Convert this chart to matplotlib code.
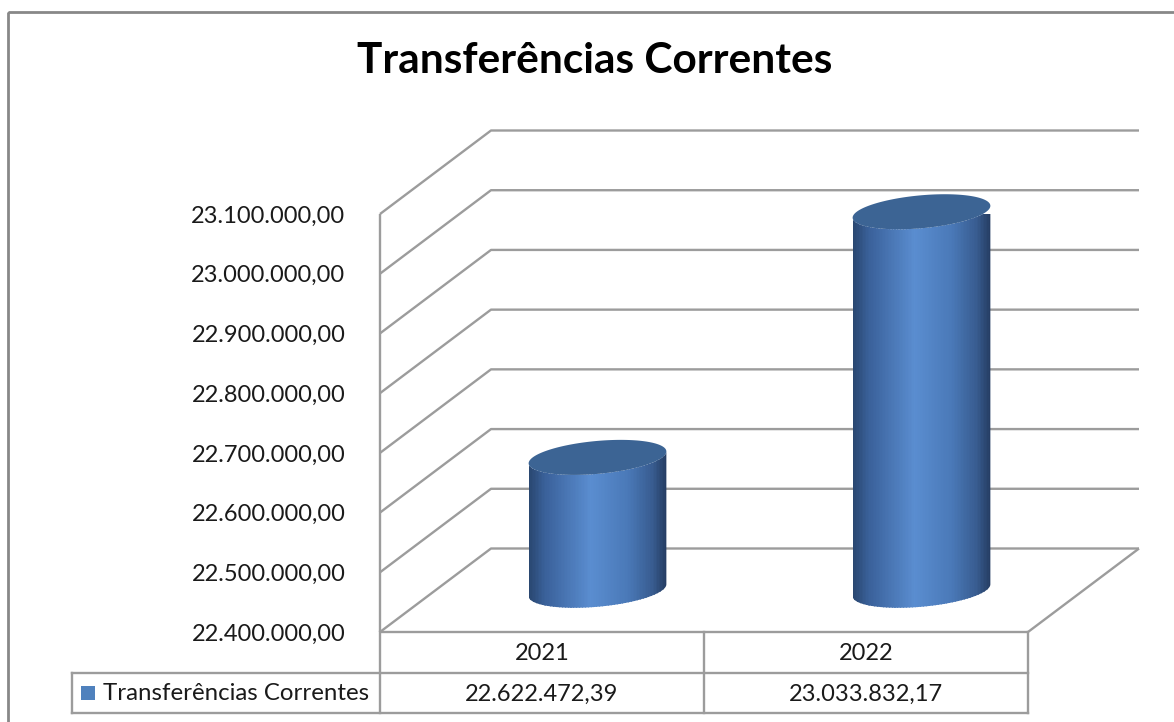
import numpy as np
import matplotlib
matplotlib.use("Agg")
import matplotlib.pyplot as plt
from matplotlib.transforms import Affine2D, IdentityTransform
from matplotlib.patches import Polygon, Rectangle
from matplotlib.collections import PolyCollection
from matplotlib.lines import Line2D
from matplotlib.colors import LinearSegmentedColormap

# ---------------- data ----------------
title = "Transferências Correntes"
series_name = "Transferências Correntes"
categories = ["2021", "2022"]
values = [22622472.39, 23033832.17]
value_labels = ["22.622.472,39", "23.033.832,17"]
y_ticks = [22400000, 22500000, 22600000, 22700000, 22800000, 22900000, 23000000, 23100000]
y_tick_labels = ["22.400.000,00", "22.500.000,00", "22.600.000,00", "22.700.000,00",
                 "22.800.000,00", "22.900.000,00", "23.000.000,00", "23.100.000,00"]

FONT = ["Lato", "DejaVu Sans"]
plt.rcParams['font.family'] = FONT

W, H = 1174, 722
fig = plt.figure(figsize=(W / 100, H / 100), dpi=100)
fig.patch.set_facecolor("white")

# pixel overlay for frame + table
pax = fig.add_axes([0, 0, 1, 1], zorder=0)
pax.set_xlim(0, W)
pax.set_ylim(H, 0)
pax.axis("off")

# main axes = front plane of the 3D chart
L, R, T, B = 380, 1028, 214, 632
ax = fig.add_axes([L / W, 1 - B / H, (R - L) / W, (B - T) / H], zorder=1)
ax.patch.set_alpha(0)
ax.set_xlim(-0.5, len(categories) - 0.5)
ax.set_ylim(y_ticks[0], y_ticks[-1])
for s in ax.spines.values():
    s.set_visible(False)
ax.set_xticks([])
ax.set_yticks(y_ticks)
ax.set_yticklabels(y_tick_labels, fontsize=17, color="#1a1a1a")
ax.tick_params(axis="y", length=0, pad=25)

GRID = "#9c9c9c"
LW = 1.7
DX, DY = 111, 83.5  # depth offset in pixels (display units)
back = ax.transData + Affine2D().translate(DX, DY)
mid = ax.transData + Affine2D().translate(DX / 2, DY / 2)
x0, x1 = ax.get_xlim()
ID = IdentityTransform()


def dline(pts, **kw):
    pts = np.asarray(pts)
    ln = Line2D(pts[:, 0], pts[:, 1], transform=ID, color=GRID, lw=LW,
                clip_on=False, solid_capstyle="butt", **kw)
    ax.add_artist(ln)

# gridlines: front axis -> back wall
for v in y_ticks:
    p0 = ax.transData.transform((x0, v))
    p1 = back.transform((x0, v))
    p2 = back.transform((x1, v))
    dline([p0, p1, p2], zorder=1)
# front vertical axis line
dline([ax.transData.transform((x0, y_ticks[0])), ax.transData.transform((x0, y_ticks[-1]))], zorder=1)
# floor front edge + right edge
dline([ax.transData.transform((x0, y_ticks[0])), ax.transData.transform((x1, y_ticks[0])),
       back.transform((x1, y_ticks[0]))], zorder=1)

# ---------------- cylinders ----------------
cmap = LinearSegmentedColormap.from_list("cyl", [
    (0.0, "#29466f"), (0.12, "#3a619a"), (0.45, "#5a8dd0"),
    (0.72, "#4a79b8"), (0.9, "#385c90"), (1.0, "#253d63")])
TOP = "#3c6494"

px_per_cat = ax.transData.transform((1, 0))[0] - ax.transData.transform((0, 0))[0]
rx = 0.2 * px_per_cat
dlen = np.hypot(DX, DY)
ux, uy = DX / dlen, DY / dlen
rd = 0.21 * dlen
t0 = np.arctan2(rd * ux, rx)


def ell(c, t):
    return np.column_stack([c[0] + rx * np.cos(t) + rd * ux * np.sin(t),
                            c[1] + rd * uy * np.sin(t)])

for i, v in enumerate(values):
    ct = mid.transform((i, v))
    cb = mid.transform((i, y_ticks[0]))
    tf = np.linspace(t0 + np.pi, t0 + 2 * np.pi, 80)
    body = np.vstack([ell(cb, tf), ell(ct, tf[::-1])])
    bp = Polygon(body, closed=True, transform=ID, facecolor="none", edgecolor="none",
                 clip_on=False, zorder=3)
    ax.add_patch(bp)
    xl, xr = body[:, 0].min(), body[:, 0].max()
    ylo, yhi = body[:, 1].min() - 2, body[:, 1].max() + 2
    n = 90
    xs = np.linspace(xl, xr, n + 1)
    strips = [[(xs[k], ylo), (xs[k + 1] + 0.6, ylo), (xs[k + 1] + 0.6, yhi), (xs[k], yhi)]
              for k in range(n)]
    cols = [cmap((k + 0.5) / n) for k in range(n)]
    pc = PolyCollection(strips, facecolors=cols, edgecolors="none", transform=ID,
                        zorder=3, clip_on=True)
    ax.add_collection(pc)
    pc.set_clip_path(bp)
    tt = np.linspace(0, 2 * np.pi, 200)
    top = Polygon(ell(ct, tt), closed=True, transform=ID, facecolor=TOP,
                  edgecolor="none", clip_on=False, zorder=4)
    ax.add_patch(top)

# ---------------- title ----------------
fig.text(595 / W, 1 - 61 / H, title, ha="center", va="center", fontsize=30.5,
         fontweight="bold", color="black")

# ---------------- outer frame ----------------
pax.add_patch(Rectangle((8, 12), W + 20, H + 20, facecolor="none", edgecolor="#888888", lw=2))

# ---------------- data table ----------------
TL = "#9c9c9c"
row1, row2, row3 = 632, 673, 713
xcols = [ax.transData.transform((x0 + k, 0))[0] for k in range(len(categories) + 1)]
legend_left = 72


def pl(xs_, ys_):
    pax.plot(xs_, ys_, color=TL, lw=LW, solid_capstyle="projecting")

for xc in xcols:
    pl([xc, xc], [row1, row3])
pl([legend_left, xcols[-1]], [row2, row2])
pl([legend_left, xcols[-1]], [row3, row3])
pl([legend_left, legend_left], [row2, row3])

for i, (c, lab) in enumerate(zip(categories, value_labels)):
    xc = ax.transData.transform((i, 0))[0]
    pax.text(xc, (row1 + row2) / 2 + 1, c, ha="center", va="center", fontsize=17, color="#1a1a1a")
    pax.text(xc, (row2 + row3) / 2 + 1, lab, ha="center", va="center", fontsize=17, color="#1a1a1a")

pax.add_patch(Rectangle((81, 686), 13.5, 13.5, facecolor="#4f81bd", edgecolor="none"))
pax.text(103, (row2 + row3) / 2 + 1, series_name, ha="left", va="center", fontsize=17.3, color="#1a1a1a")

fig.savefig("out.png", dpi=100, facecolor="white")
